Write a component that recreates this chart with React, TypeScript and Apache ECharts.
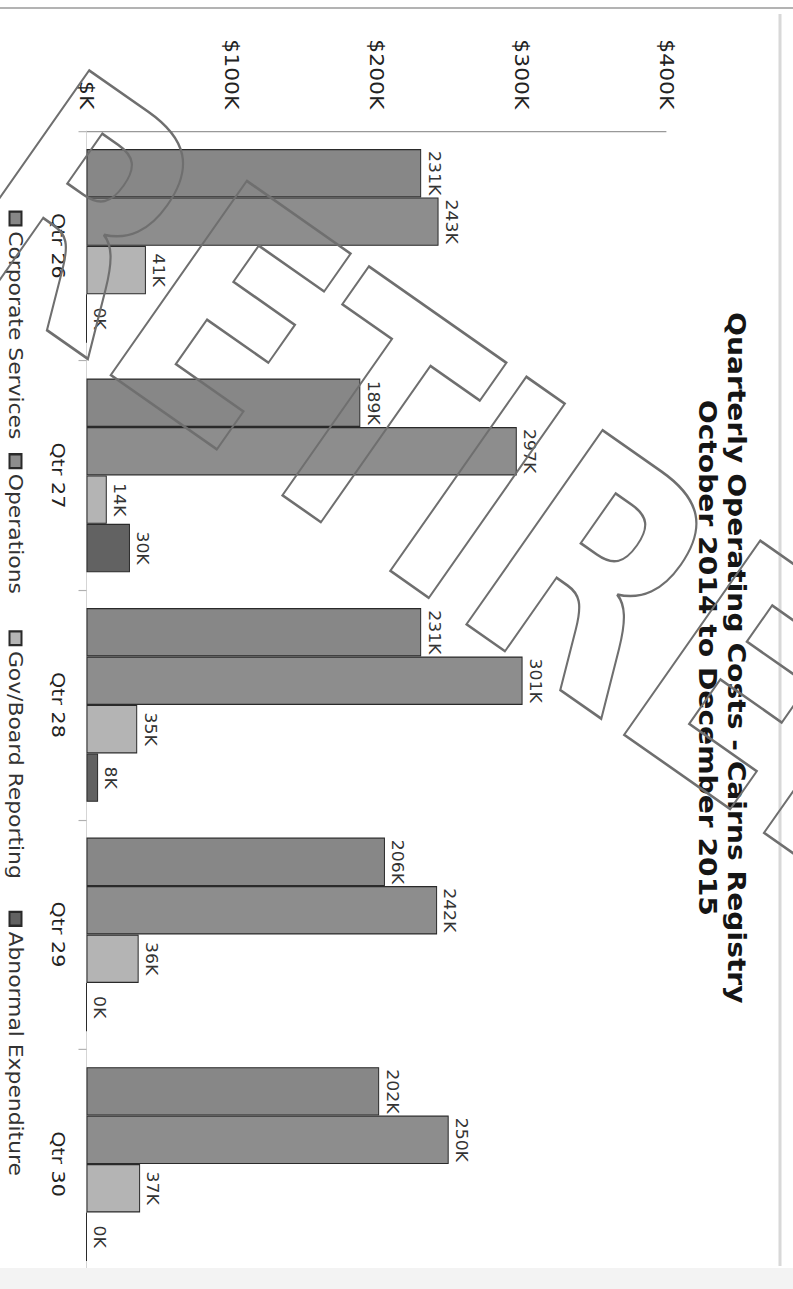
import React, { useEffect, useRef } from 'react';
import * as echarts from 'echarts';

// ---- data (values in $K) ----
const categories = ['Qtr 26', 'Qtr 27', 'Qtr 28', 'Qtr 29', 'Qtr 30'];
const corporateServices = [231, 189, 231, 206, 202];
const operations = [243, 297, 301, 242, 250];
const govBoardReporting = [41, 14, 35, 36, 37];
const abnormalExpenditure = [0, 30, 8, 0, 0];
const seriesNames = ['Corporate Services', 'Operations', 'Gov/Board Reporting', 'Abnormal Expenditure'];
const seriesColors = ['#878787', '#8d8d8d', '#b4b4b4', '#626262'];
const valueAxisMin = 0;
const valueAxisMax = 400;
const valueAxisStep = 100;
const titleLine1 = 'Quarterly Operating Costs - Cairns Registry';
const titleLine2 = 'October 2014 to December 2015';
const watermarkText = 'RETIRED';

// ---- page geometry (the scanned chart is rotated 90deg clockwise and stretched) ----
const PAGE_W = 793;
const PAGE_H = 1289;
const STRETCH = 1.15;
const INNER_W = Math.round(PAGE_H / STRETCH);
const INNER_H = PAGE_W;
const FONT = '"DejaVu Sans", Verdana, sans-serif';
const legendLefts = [178, 389, 543, 787];

function ChartPanel() {
  const ref = useRef<HTMLDivElement>(null);
  useEffect(() => {
    if (!ref.current) return;
    const chart = echarts.init(ref.current, null, { renderer: 'svg' });
    const seriesData = [corporateServices, operations, govBoardReporting, abnormalExpenditure];
    chart.setOption({
      animation: false,
      backgroundColor: 'transparent',
      textStyle: { fontFamily: FONT },
      title: {
        text: titleLine1 + '\n' + titleLine2,
        left: 567,
        top: 37,
        textAlign: 'center',
        textStyle: { fontSize: 24.5, fontWeight: 'bold', color: '#151515', lineHeight: 29, fontFamily: FONT },
      },
      legend: seriesNames.map((name, i) => ({
        data: [name],
        left: legendLefts[i],
        top: 763,
        icon: 'rect',
        itemWidth: 12,
        itemHeight: 12,
        textStyle: { fontSize: 19, color: '#333', fontFamily: FONT },
      })),
      grid: { left: 114, right: INNER_W - 114 - 998, top: 127, bottom: 86.5, containLabel: false, outerBoundsMode: 'none' },
      xAxis: {
        type: 'category',
        data: categories,
        axisLine: { show: true, lineStyle: { color: '#d5d5d5' } },
        axisTick: { show: true, length: 8, lineStyle: { color: '#b0b0b0' } },
        axisLabel: { fontSize: 18, color: '#222', margin: 19, fontFamily: FONT },
      },
      yAxis: {
        type: 'value',
        min: valueAxisMin,
        max: valueAxisMax,
        interval: valueAxisStep,
        axisLine: { show: true, lineStyle: { color: '#999' } },
        axisTick: { show: false },
        splitLine: { show: false },
        axisLabel: {
          fontSize: 19,
          color: '#222',
          margin: 19,
          fontFamily: FONT,
          formatter: (v: number) => (v === 0 ? '$K' : '$' + v + 'K'),
        },
      },
      series: seriesNames.map((name, i) => ({
        name,
        type: 'bar',
        data: seriesData[i],
        barGap: '0%',
        barCategoryGap: '15.6%',
        itemStyle: { color: seriesColors[i], borderColor: '#2a2a2a', borderWidth: 1 },
        label: {
          show: true,
          position: 'top',
          distance: 5,
          fontSize: 15,
          color: '#333',
          fontFamily: FONT,
          formatter: '{c}K',
        },
      })),
    });
    return () => chart.dispose();
  }, []);
  return (
    <div
      ref={ref}
      style={{
        position: 'absolute',
        left: 0,
        top: 0,
        width: INNER_W,
        height: INNER_H,
        transformOrigin: '0 0',
        transform: `translate(${PAGE_W}px, 0) rotate(90deg) scaleX(${STRETCH})`,
      }}
    />
  );
}

function Overlay() {
  const ref = useRef<HTMLDivElement>(null);
  useEffect(() => {
    if (!ref.current) return;
    const chart = echarts.init(ref.current, null, { renderer: 'svg' });
    chart.setOption({
      animation: false,
      backgroundColor: 'transparent',
      graphic: [
        { type: 'line', silent: true, shape: { x1: 0, y1: 8, x2: PAGE_W, y2: 8 }, style: { stroke: '#9a9a9a', lineWidth: 1.5 } },
        { type: 'line', silent: true, shape: { x1: 780, y1: 14, x2: 780, y2: 1266 }, style: { stroke: '#d8d8d8', lineWidth: 3 } },
        { type: 'rect', silent: true, shape: { x: 0, y: 1268, width: PAGE_W, height: 21 }, style: { fill: '#f3f3f3' } },
        {
          type: 'text',
          silent: true,
          x: -1,
          y: 159,
          rotation: (-35 * Math.PI) / 180,
          scaleY: 1.3,
          style: {
            text: watermarkText,
            fontSize: 250,
            fontWeight: 'bold',
            fontFamily: FONT,
            fill: 'none',
            stroke: '#6f6f6f',
            lineWidth: 2,
            strokeNoScale: true,
            align: 'left',
            verticalAlign: 'middle',
          },
        },
      ],
    });
    return () => chart.dispose();
  }, []);
  return (
    <div
      ref={ref}
      style={{ position: 'absolute', left: 0, top: 0, width: PAGE_W, height: PAGE_H, pointerEvents: 'none' }}
    />
  );
}

export default function App() {
  return (
    <div
      style={{
        position: 'absolute',
        left: 0,
        top: 0,
        width: PAGE_W,
        height: PAGE_H,
        overflow: 'hidden',
        background: '#ffffff',
      }}
    >
      <ChartPanel />
      <Overlay />
    </div>
  );
}
